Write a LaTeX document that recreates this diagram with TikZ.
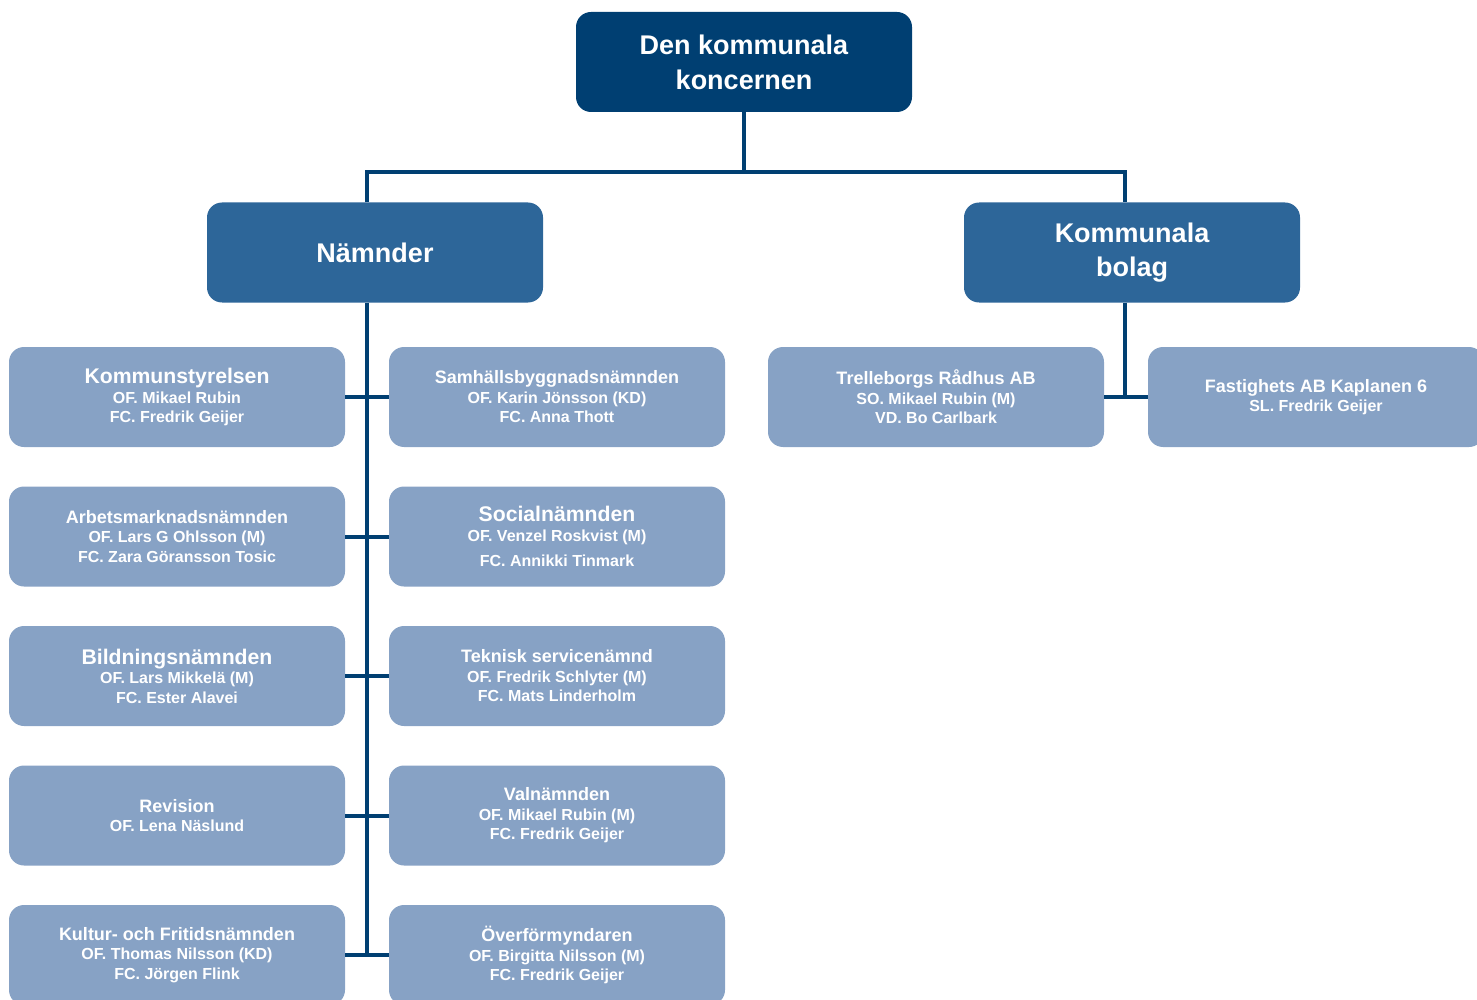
\documentclass[tikz,border=0pt]{standalone}
\usepackage{fontspec}
\setmainfont{Liberation Sans}
\usepackage{tikz}

\definecolor{koncern}{HTML}{003F72}
\definecolor{midblue}{HTML}{2D6699}
\definecolor{paleblue}{HTML}{87A2C5}

\newcommand{\ttl}[1]{{\fontsize{18}{20}\selectfont #1}}
\newcommand{\bigttl}[1]{{\fontsize{21.2}{22}\selectfont #1}}

\begin{document}
\begin{tikzpicture}[x=1pt, y=-1pt, node distance=139.5pt,
    topbox/.style = {fill=koncern, text=white, rounded corners=15pt, minimum width=336pt, minimum height=100pt, align=center, font=\bfseries\fontsize{27}{35}\selectfont},
    headbox/.style = {fill=midblue, text=white, rounded corners=15pt, minimum width=336pt, minimum height=100pt, align=center, font=\bfseries\fontsize{27}{34}\selectfont},
    unitbox/.style = {fill=paleblue, text=white, rounded corners=15pt, minimum width=336pt, minimum height=100pt, align=center, font=\bfseries\fontsize{16}{19.5}\selectfont},
    link/.style = {draw=koncern, line width=4pt}]
        \useasboundingbox (0,0) rectangle (1477,1000);
        \clip (0,0) rectangle (1477,1000);
        \node[topbox] (kon) at (744,62) {Den kommunala\\koncernen};
        \node[headbox] (nam) at (375,252.5) {Nämnder};
        \node[headbox] (bol) at (1132,252.5) {Kommunala\\bolag};
        % namnder, vanster kolumn
        \node[unitbox] (ks) at (177,397) {\bigttl{Kommunstyrelsen}\\OF. Mikael Rubin\\FC. Fredrik Geijer};
        \node[unitbox] (am) [below of=ks] {\ttl{Arbetsmarknadsnämnden}\\OF. Lars G Ohlsson (M)\\FC. Zara Göransson Tosic};
        \node[unitbox] (bn) [below of=am] {\bigttl{Bildningsnämnden}\\OF. Lars Mikkelä (M)\\FC. Ester Alavei};
        \node[unitbox] (rev) [below of=bn] {\ttl{Revision}\\OF. Lena Näslund};
        \node[unitbox] (kf) [below of=rev] {\ttl{Kultur- och Fritidsnämnden}\\OF. Thomas Nilsson (KD)\\FC. Jörgen Flink};
        % namnder, hoger kolumn
        \node[unitbox] (sb) at (557,397) {\ttl{Samhällsbyggnadsnämnden}\\OF. Karin Jönsson (KD)\\FC. Anna Thott};
        \node[unitbox] (soc) [below of=sb] {\bigttl{Socialnämnden}\\OF. Venzel Roskvist (M)\\[6pt]FC. Annikki Tinmark};
        \node[unitbox] (ts) [below of=soc] {\ttl{Teknisk servicenämnd}\\OF. Fredrik Schlyter (M)\\FC. Mats Linderholm};
        \node[unitbox] (val) [below of=ts] {\ttl{Valnämnden}\\OF. Mikael Rubin (M)\\FC. Fredrik Geijer};
        \node[unitbox] (of) [below of=val] {\ttl{Överförmyndaren}\\OF. Birgitta Nilsson (M)\\FC. Fredrik Geijer};
        % bolag
        \node[unitbox] (tr) at (936,397) {\ttl{Trelleborgs Rådhus AB}\\SO. Mikael Rubin (M)\\VD. Bo Carlbark};
        \node[unitbox] (fa) at (1316,397) {\ttl{Fastighets AB Kaplanen 6}\\SL. Fredrik Geijer};
        \coordinate (delning) at (744,172);
        \coordinate (nspine) at (367,955);
        \coordinate (bspine) at (1125,397);
        \draw[link] (kon.south) -- (delning);
        \draw[link] (nam.north -| nspine) |- (delning) -| (bol.north -| bspine);
        \draw[link] (nam.south -| nspine) -- (nspine);
        \draw[link] (bol.south -| bspine) -- (bspine);
        \foreach \a/\b in {ks/sb, am/soc, bn/ts, rev/val, kf/of}
            \draw[link] (\a.east) -- (\b.west);
        \draw[link] (tr.east) -- (fa.west);
    \end{tikzpicture}
\end{document}
